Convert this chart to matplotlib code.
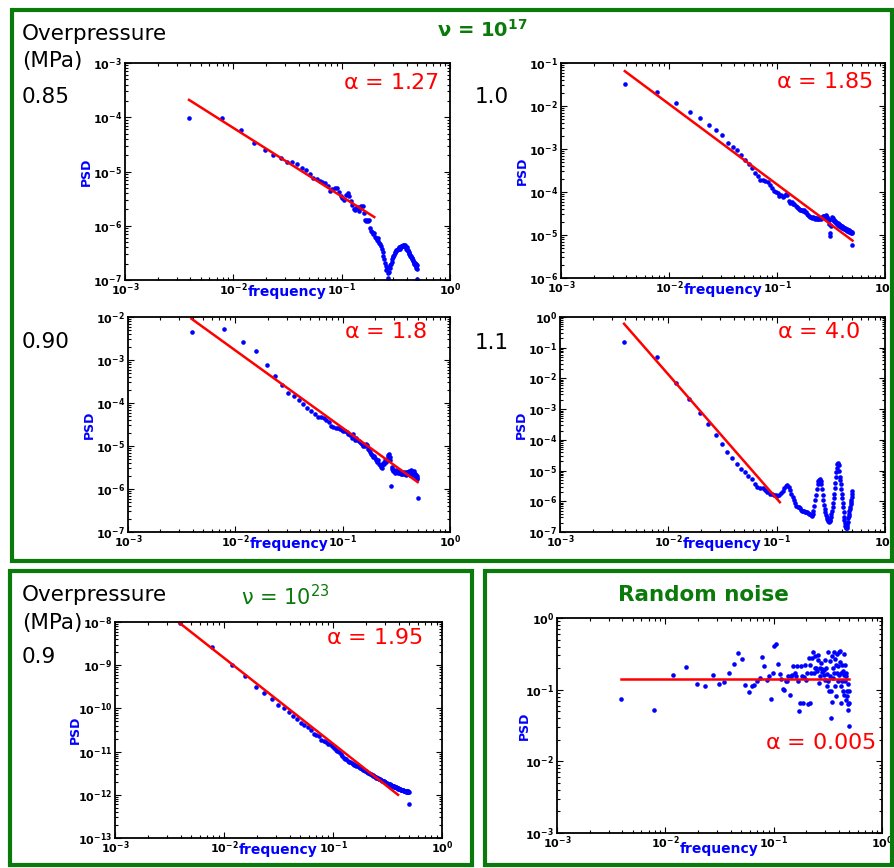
import numpy as np
import matplotlib
matplotlib.use("Agg")
import matplotlib.pyplot as plt
from matplotlib.patches import Rectangle
from matplotlib.ticker import FuncFormatter, LogLocator

W, H = 895, 868

# frequency grid of the spectra (k / 256, k = 1..128)
freq = np.arange(1, 129) / 256.0

# log10(PSD), one value per frequency bin
psd_085 = [
    -4.02, -4.02, -4.24, -4.48, -4.60, -4.70, -4.76, -4.83, -4.83, -4.86,
    -4.94, -4.97, -5.05, -5.12, -5.13, -5.17, -5.19, -5.22, -5.26, -5.36,
    -5.33, -5.31, -5.30, -5.37, -5.46, -5.49, -5.52, -5.43, -5.40, -5.46,
    -5.55, -5.62, -5.70, -5.71, -5.68, -5.65, -5.72, -5.68, -5.63, -5.64,
    -5.77, -5.90, -5.91, -5.90, -5.91, -5.89, -6.05, -6.09, -6.11, -6.15,
    -6.14, -6.20, -6.23, -6.26, -6.23, -6.29, -6.31, -6.34, -6.38, -6.43,
    -6.48, -6.55, -6.62, -6.68, -6.75, -6.82, -6.78, -6.88, -6.97, -6.85,
    -6.78, -6.72, -6.70, -6.66, -6.62, -6.58, -6.55, -6.53, -6.50, -6.48,
    -6.47, -6.45, -6.45, -6.43, -6.42, -6.43, -6.40, -6.42, -6.40, -6.38,
    -6.40, -6.37, -6.38, -6.36, -6.38, -6.35, -6.37, -6.36, -6.38, -6.40,
    -6.42, -6.40, -6.44, -6.46, -6.45, -6.48, -6.50, -6.52, -6.53, -6.55,
    -6.57, -6.56, -6.60, -6.62, -6.60, -6.65, -6.63, -6.68, -6.66, -6.70,
    -6.68, -6.72, -6.75, -6.70, -6.78, -6.73, -6.80, -6.99,
]
psd_100 = [
    -1.48, -1.67, -1.94, -2.14, -2.29, -2.44, -2.55, -2.67, -2.87, -2.96,
    -3.03, -3.13, -3.25, -3.34, -3.45, -3.56, -3.62, -3.71, -3.73, -3.74,
    -3.77, -3.83, -3.91, -3.98, -4.00, -4.02, -4.10, -4.08, -4.12, -4.10,
    -4.04, -4.08, -4.22, -4.26, -4.24, -4.27, -4.29, -4.33, -4.35, -4.37,
    -4.40, -4.41, -4.41, -4.43, -4.45, -4.43, -4.46, -4.47, -4.50, -4.53,
    -4.55, -4.58, -4.57, -4.60, -4.58, -4.61, -4.60, -4.62, -4.61, -4.63,
    -4.62, -4.60, -4.62, -4.61, -4.63, -4.60, -4.58, -4.56, -4.57, -4.55,
    -4.58, -4.53, -4.56, -4.60, -4.57, -4.62, -4.66, -4.75, -4.95, -5.03,
    -4.80, -4.62, -4.58, -4.64, -4.60, -4.68, -4.66, -4.70, -4.68, -4.72,
    -4.70, -4.74, -4.72, -4.76, -4.74, -4.77, -4.78, -4.76, -4.80, -4.79,
    -4.81, -4.80, -4.83, -4.82, -4.84, -4.83, -4.86, -4.84, -4.87, -4.85,
    -4.88, -4.86, -4.89, -4.87, -4.90, -4.88, -4.91, -4.89, -4.92, -4.90,
    -4.93, -4.91, -4.94, -4.92, -4.95, -4.93, -4.96, -5.24,
]
psd_090 = [
    -2.36, -2.27, -2.57, -2.79, -3.12, -3.37, -3.57, -3.76, -3.84, -3.92,
    -4.02, -4.12, -4.18, -4.25, -4.33, -4.33, -4.36, -4.40, -4.44, -4.53,
    -4.56, -4.57, -4.57, -4.60, -4.62, -4.64, -4.66, -4.68, -4.71, -4.75,
    -4.81, -4.73, -4.85, -4.81, -4.87, -4.88, -4.91, -4.93, -4.95, -5.01,
    -5.01, -4.95, -4.98, -5.06, -5.10, -5.14, -5.18, -5.22, -5.26, -5.24,
    -5.29, -5.33, -5.32, -5.37, -5.33, -5.41, -5.45, -5.49, -5.50, -5.45,
    -5.40, -5.41, -5.37, -5.33, -5.37, -5.32, -5.22, -5.26, -5.18, -5.26,
    -5.33, -5.93, -5.49, -5.53, -5.55, -5.57, -5.59, -5.60, -5.63, -5.58,
    -5.55, -5.60, -5.57, -5.62, -5.59, -5.63, -5.58, -5.61, -5.64, -5.60,
    -5.62, -5.65, -5.61, -5.63, -5.66, -5.62, -5.60, -5.64, -5.67, -5.63,
    -5.61, -5.65, -5.62, -5.66, -5.60, -5.58, -5.63, -5.67, -5.62, -5.55,
    -5.60, -5.64, -5.58, -5.62, -5.66, -5.61, -5.57, -5.63, -5.68, -5.64,
    -5.70, -5.66, -5.72, -5.68, -5.74, -5.70, -5.76, -6.22,
]
psd_110 = [
    -0.80, -1.30, -2.16, -2.67, -3.13, -3.48, -3.83, -4.12, -4.39, -4.59,
    -4.78, -4.94, -5.05, -5.18, -5.29, -5.43, -5.54, -5.56, -5.58, -5.63,
    -5.70, -5.76, -5.76, -5.81, -5.78, -5.82, -5.81, -5.74, -5.65, -5.56,
    -5.50, -5.48, -5.54, -5.63, -5.76, -5.87, -5.97, -6.06, -6.14, -6.17,
    -6.19, -6.22, -6.28, -6.30, -6.32, -6.32, -6.34, -6.35, -6.36, -6.39,
    -6.40, -6.42, -6.45, -6.47, -6.42, -6.30, -6.15, -5.95, -5.78, -5.60,
    -5.45, -5.35, -5.30, -5.27, -5.33, -5.45, -5.60, -5.80, -5.97, -6.12,
    -6.25, -6.35, -6.45, -6.52, -6.57, -6.62, -6.65, -6.66, -6.65, -6.60,
    -6.52, -6.42, -6.30, -6.18, -6.05, -5.90, -5.75, -5.58, -5.40, -5.22,
    -5.05, -4.90, -4.80, -4.76, -4.78, -4.82, -5.00, -5.20, -5.30, -5.45,
    -5.60, -5.75, -5.90, -6.05, -6.20, -6.35, -6.50, -6.62, -6.72, -6.80,
    -6.85, -6.88, -6.86, -6.82, -6.75, -6.66, -6.56, -6.48, -6.40, -6.32,
    -6.25, -6.18, -6.10, -6.02, -5.95, -5.85, -5.75, -5.65,
]
psd_nu23 = [
    -8.02, -8.58, -8.99, -9.25, -9.50, -9.65, -9.78, -9.93, -10.00, -10.08,
    -10.18, -10.25, -10.33, -10.38, -10.42, -10.50, -10.60, -10.62, -10.65, -10.72,
    -10.75, -10.77, -10.82, -10.83, -10.88, -10.92, -10.96, -10.98, -11.02, -11.06,
    -11.11, -11.14, -11.16, -11.18, -11.21, -11.23, -11.25, -11.27, -11.28, -11.30,
    -11.31, -11.33, -11.34, -11.36, -11.37, -11.39, -11.40, -11.42, -11.43, -11.44,
    -11.46, -11.47, -11.48, -11.49, -11.50, -11.52, -11.53, -11.54, -11.55, -11.56,
    -11.57, -11.58, -11.59, -11.60, -11.61, -11.62, -11.63, -11.64, -11.64, -11.65,
    -11.66, -11.67, -11.68, -11.69, -11.69, -11.70, -11.71, -11.72, -11.72, -11.73,
    -11.74, -11.74, -11.75, -11.76, -11.76, -11.77, -11.78, -11.78, -11.79, -11.79,
    -11.80, -11.80, -11.81, -11.82, -11.82, -11.83, -11.83, -11.84, -11.84, -11.85,
    -11.85, -11.86, -11.86, -11.87, -11.87, -11.87, -11.88, -11.88, -11.89, -11.89,
    -11.90, -11.90, -11.90, -11.91, -11.91, -11.92, -11.91, -11.92, -11.92, -11.93,
    -11.92, -11.93, -11.92, -11.94, -11.93, -11.92, -11.94, -12.22,
]
psd_noise = [
    -1.13, -1.29, -0.80, -0.69, -0.92, -0.95, -0.80, -0.92, -0.89, -0.77,
    -0.64, -0.49, -0.57, -0.93, -1.03, -0.95, -0.94, -0.88, -0.84, -0.55,
    -0.67, -0.87, -0.81, -1.13, -0.77, -0.39, -0.36, -0.64, -0.78, -0.85,
    -0.99, -1.00, -0.88, -0.88, -0.81, -1.07, -0.81, -0.79, -0.67, -0.77,
    -0.81, -0.67, -0.88, -1.30, -1.18, -0.67, -0.81, -1.18, -0.83, -0.65,
    -0.87, -0.77, -1.20, -0.56, -0.65, -1.19, -0.77, -0.56, -0.47, -0.77,
    -0.70, -0.53, -0.70, -0.74, -0.58, -0.51, -0.91, -0.70, -0.81, -0.63,
    -0.71, -0.75, -0.73, -0.72, -0.79, -0.58, -0.87, -0.70, -0.78, -0.95,
    -0.88, -0.47, -1.02, -0.81, -0.60, -1.40, -1.02, -1.17, -0.53, -0.70,
    -0.84, -0.47, -0.77, -0.57, -0.95, -0.65, -1.09, -0.77, -0.50, -0.88,
    -0.67, -0.79, -0.47, -0.46, -0.61, -0.77, -0.95, -1.19, -0.65, -0.88,
    -0.74, -1.02, -0.79, -0.50, -1.07, -0.65, -0.88, -1.14, -0.77, -0.81,
    -1.09, -1.02, -1.20, -0.92, -1.29, -1.02, -1.51, -1.19,
]

# fitted power laws: (frequency ends, log10 PSD ends)
fit_085 = ([0.0039, 0.20], [-3.68, -5.84])
fit_100 = ([0.0039, 0.50], [-1.19, -5.13])
fit_090 = ([0.0039, 0.50], [-2.04, -5.84])
fit_110 = ([0.0039, 0.107], [-0.22, -6.03])
fit_nu23 = ([0.0039, 0.395], [-8.02, -12.00])
fit_noise = ([0.0039, 0.50], [-0.85, -0.85])

alphas = ["1.27", "1.85", "1.8", "4.0", "1.95", "0.005"]

GREEN = "#0a7a0a"

fig = plt.figure(figsize=(W / 100, H / 100), dpi=100)


def box(l, t, r, b):
    return [l / W, 1 - b / H, (r - l) / W, (b - t) / H]


def frame(l, t, r, b):
    fig.patches.append(Rectangle((l / W, 1 - b / H), (r - l) / W, (b - t) / H,
                                 transform=fig.transFigure, fill=False,
                                 edgecolor=GREEN, linewidth=3.0))


def label(x, y, s, **kw):
    fig.text(x / W, 1 - y / H, s, va="center", **kw)


tick_fmt = FuncFormatter(lambda v, p: r"$\mathbf{10^{%d}}$" % round(np.log10(v)))


def panel(rect, data, fit, ylim, alpha, apos, ylab_x=-0.10, xlab_y=-0.025):
    ax = fig.add_axes(box(*rect))
    ax.plot(freq, 10.0 ** np.array(data), "o", color="#0000ff", ms=3.3, mec="none")
    ax.plot(fit[0], 10.0 ** np.array(fit[1]), "-", color="#ff0000", lw=1.8)
    ax.set_xscale("log")
    ax.set_yscale("log")
    ax.set_xlim(1e-3, 1)
    ax.set_ylim(10.0 ** ylim[0], 10.0 ** ylim[1])
    ax.xaxis.set_major_locator(LogLocator(base=10, numticks=20))
    ax.yaxis.set_major_locator(LogLocator(base=10, numticks=20))
    ax.xaxis.set_major_formatter(tick_fmt)
    ax.yaxis.set_major_formatter(tick_fmt)
    ax.tick_params(which="both", direction="in", top=True, right=True,
                   labelsize=8, width=0.8)
    ax.tick_params(which="major", length=4)
    ax.tick_params(which="minor", length=2)
    ax.tick_params(axis="x", pad=1)
    ax.tick_params(axis="y", pad=2)
    for s in ax.spines.values():
        s.set_linewidth(1.3)
    ax.set_xlabel("frequency", color="#0000ff", fontsize=10, fontweight="bold")
    ax.xaxis.set_label_coords(0.5, xlab_y)
    ax.set_ylabel("PSD", color="#0000ff", fontsize=9, fontweight="bold")
    ax.yaxis.set_label_coords(ylab_x, 0.5)
    ax.text(apos[0], apos[1], r"$\mathrm{\alpha}$ = " + alpha, transform=ax.transAxes,
            color="#ff0000", fontsize=16, ha="left", va="center")
    return ax


# green frames
frame(12, 10, 892, 561)
frame(10, 571, 472, 865)
frame(485, 571, 892, 865)

panel((125, 63, 450, 280), psd_085, fit_085, (-7, -3), alphas[0], (0.67, 0.91))
panel((561, 63, 885, 278), psd_100, fit_100, (-6, -1), alphas[1], (0.665, 0.91))
panel((128, 317, 450, 532), psd_090, fit_090, (-7, -2), alphas[2], (0.67, 0.93))
panel((560, 317, 885, 532), psd_110, fit_110, (-7, 0), alphas[3], (0.668, 0.93))
panel((115, 622, 442, 838), psd_nu23, fit_nu23, (-13, -8), alphas[4], (0.645, 0.925))
panel((557, 618, 882, 833), psd_noise, fit_noise, (-3, 0), alphas[5], (0.64, 0.42),
      ylab_x=-0.08, xlab_y=-0.04)

# headings and pressure labels
label(22, 34, "Overpressure", fontsize=15.5)
label(22, 61, "(MPa)", fontsize=15.5)
label(22, 97, "0.85", fontsize=15.5)
label(475, 97, "1.0", fontsize=15.5)
label(22, 342, "0.90", fontsize=15.5)
label(475, 343, "1.1", fontsize=15.5)
label(482, 30, r"ν = 10$^{\mathbf{17}}$", fontsize=14, fontweight="bold",
      color=GREEN, ha="center")

label(22, 595, "Overpressure", fontsize=15.5)
label(22, 623, "(MPa)", fontsize=15.5)
label(22, 657, "0.9", fontsize=15.5)
label(285, 597, r"ν = 10$^{23}$", fontsize=15, color=GREEN, ha="center")
label(703, 595, "Random noise", fontsize=15.5, fontweight="bold", color=GREEN, ha="center")

fig.savefig("out.png", dpi=100)
